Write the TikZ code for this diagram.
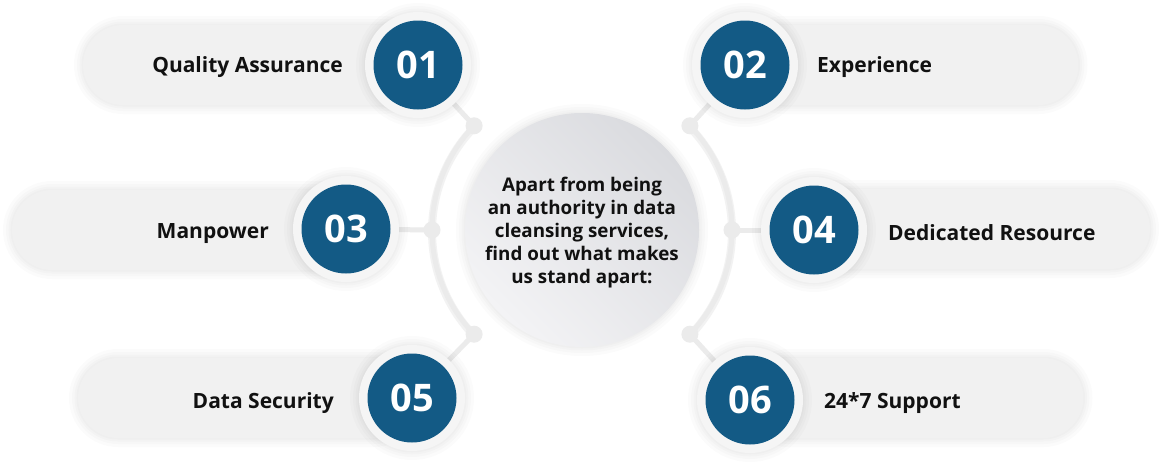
\documentclass[tikz,border=0pt]{standalone}
\usepackage{fontspec}
\setmainfont{Open Sans}
\definecolor{numblue}{HTML}{135A85}
\definecolor{pillgray}{HTML}{F1F1F1}
\definecolor{ringgray}{HTML}{F5F5F5}
\definecolor{linegray}{HTML}{EBEBEB}
\definecolor{txt}{HTML}{111111}
\definecolor{cdark}{HTML}{DADBDF}
\definecolor{clight}{HTML}{F3F3F5}
\begin{document}
\begin{tikzpicture}[x=1pt,y=-1pt,
  halo/.style={preaction={draw=black, draw opacity=0.015, line width=18pt},
               preaction={draw=black, draw opacity=0.015, line width=12pt},
               preaction={draw=black, draw opacity=0.015, line width=7pt},
               preaction={draw=black, draw opacity=0.015, line width=3pt}},
  pill/.style={fill=pillgray, rounded corners=40pt, minimum height=80pt, inner sep=0pt, halo},
  ring/.style={circle, fill=ringgray, minimum size=106pt, inner sep=0pt, halo},
  num/.style={circle, fill=numblue, minimum size=89pt, inner sep=0pt, text=white, font=\bfseries\fontsize{38}{40}\selectfont},
  dotnode/.style={circle, fill=linegray, minimum size=17pt, inner sep=0pt},
  link/.style={draw=linegray, line width=5pt},
  lbl/.style={font=\bfseries\fontsize{21}{25}\selectfont, text=txt, inner sep=0pt}]
\useasboundingbox[fill=white] (0,0) rectangle (1168,469);

% pills
\node[pill, minimum width=340pt] (p1) at (253,65) {};
\node[pill, minimum width=335pt] (p2) at (911,65) {};
\node[pill, minimum width=350pt] (p3) at (187,230) {};
\node[pill, minimum width=362pt] (p4) at (969,229) {};
\node[pill, minimum width=336pt] (p5) at (246,398) {};
\node[pill, minimum width=335pt] (p6) at (916,398) {};

% hub geometry
\coordinate (c) at (582,230);
\path (c) ++(224:150) coordinate (d1pos);
\path (c) ++(180:150) coordinate (d3pos);
\path (c) ++(136:150) coordinate (d5pos);
\path (c) ++(-44:150) coordinate (d2pos);
\path (c) ++(0:150) coordinate (d4pos);
\path (c) ++(44:150) coordinate (d6pos);

% ring positions
\path (418,65) coordinate (r1pos);
\path (745,65) coordinate (r2pos);
\path (346,229) coordinate (r3pos);
\path (814,230) coordinate (r4pos);
\path (412,398) coordinate (r5pos);
\path (750,400) coordinate (r6pos);

% arcs and links
\draw[draw=black!5, line width=8pt] ([yshift=-1.5pt]d1pos) arc[start angle=224, end angle=136, radius=150];
\draw[draw=black!5, line width=8pt] ([yshift=-1.5pt]d2pos) arc[start angle=-44, end angle=44, radius=150];
\draw[link] (d1pos) arc[start angle=224, end angle=136, radius=150];
\draw[link] (d2pos) arc[start angle=-44, end angle=44, radius=150];
\draw[link] (r1pos) -- (d1pos);
\draw[link] (r3pos) -- (d3pos);
\draw[link] (r5pos) -- (d5pos);
\draw[link] (r2pos) -- (d2pos);
\draw[link] (r4pos) -- (d4pos);
\draw[link] (r6pos) -- (d6pos);

\node[dotnode] (d1) at (d1pos) {};
\node[dotnode] (d2) at (d2pos) {};
\node[dotnode] (d3) at (d3pos) {};
\node[dotnode] (d4) at (d4pos) {};
\node[dotnode] (d5) at (d5pos) {};
\node[dotnode] (d6) at (d6pos) {};

% rings and numbers
\foreach \i in {1,...,6} {
  \node[ring] (r\i) at (r\i pos) {};
}
\node[num] (n1) at (r1pos) {01};
\node[num] (n2) at (r2pos) {02};
\node[num] (n3) at (r3pos) {03};
\node[num] (n4) at (r4pos) {04};
\node[num] (n5) at (r5pos) {05};
\node[num] (n6) at (r6pos) {06};

% labels
\node[lbl, anchor=base east] (l1) at (343,72) {Quality Assurance};
\node[lbl, anchor=base west] (l2) at (817,72) {Experience};
\node[lbl, anchor=base east] (l3) at (269,238) {Manpower};
\node[lbl, anchor=base west] (l4) at (888,240) {Dedicated Resource};
\node[lbl, anchor=base east] (l5) at (334,408) {Data Security};
\node[lbl, anchor=base west] (l6) at (824,408) {24*7 Support};

% centre
\node[circle, minimum size=234pt, inner sep=0pt, left color=cdark, right color=clight, shading angle=-45,
  halo] (hub) at (c) {};
\node[align=center, font=\bfseries\fontsize{18.8}{23}\selectfont, text=txt] (ht) at (582,233)
  {Apart from being\\an authority in data\\cleansing services,\\find out what makes\\us stand apart:};
\end{tikzpicture}
\end{document}
